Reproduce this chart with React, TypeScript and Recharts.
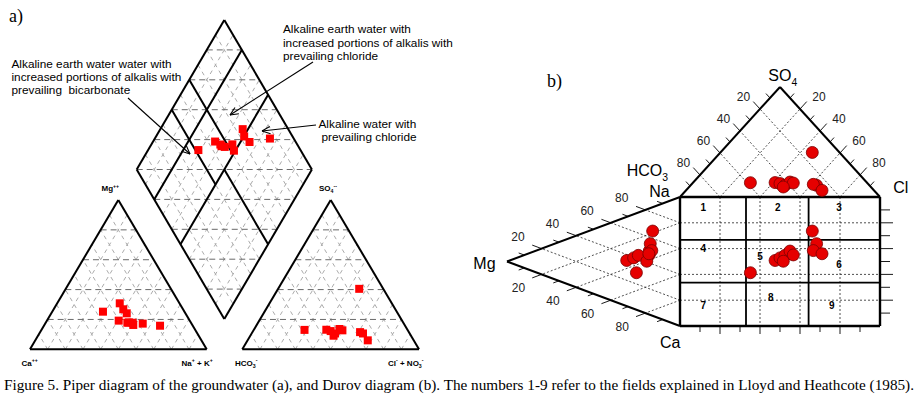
import React from "react"
import { ScatterChart, Scatter, XAxis, YAxis, ReferenceLine } from "recharts"

// ---- sample chemistry (meq %) ----
const sampleNo = [1, 2, 3, 4, 5, 6, 7, 8, 9, 10, 11]
const caPct = [46.1, 33.8, 33.8, 33.2, 33.0, 36.0, 40.2, 18.5, 27.6, 33.4, 35.0]
const mgPct = [25.2, 30.8, 26.8, 24.1, 17.8, 17.8, 19.2, 15.8, 17.2, 16.3, 18.0]
const naKPct = [28.7, 35.4, 39.4, 42.7, 49.2, 46.2, 40.6, 65.7, 55.2, 50.3, 47.0]
const hco3Pct = [58.3, 45.9, 43.9, 42.2, 38.2, 37.0, 43.8, 13.6, 26.4, 27.6, 26.0]
const so4Pct = [13.0, 13.1, 12.2, 10.6, 13.6, 12.7, 9.1, 40.5, 10.6, 11.5, 6.0]
const clPct = [28.7, 41.0, 43.9, 47.2, 48.2, 50.3, 47.1, 45.9, 63.0, 60.9, 68.0]

// axis tick labels and Durov field numbers
const pctTicks = [20, 40, 60, 80]
const fieldNo = [1, 2, 3, 4, 5, 6, 7, 8, 9]

// Furtak & Langguth field boundaries in the diamond (fractions)
const naBounds = [0.2, 0.5]
const anionBoundsLow = [0.4, 0.6] // for Na+K < 50 %
const anionBoundHigh = 0.5 // for Na+K > 50 %
// Durov field boundaries (fractions of the square)
const durovX = [0.33, 0.643]
const durovY = [0.333, 0.663]

type P = { x: number; y: number }
type Tri = { A: P; B: P; C: P }

const W = 920
const H = 404
const SANS = "'Liberation Sans', Arial, sans-serif"
const SERIF = "'Liberation Serif', 'Times New Roman', serif"

// ---- layout (px) ----
const PC: Tri = { A: { x: 30, y: 349.3 }, B: { x: 206.7, y: 349.3 }, C: { x: 118.3, y: 200 } } // Ca, Na+K, Mg
const PA: Tri = { A: { x: 242.3, y: 349.3 }, B: { x: 419, y: 349.3 }, C: { x: 330.7, y: 200 } } // HCO3, Cl, SO4
const DM = { L: { x: 136.7, y: 169.5 }, T: { x: 224.3, y: 20 }, B: { x: 224.3, y: 319 } }
const DA: Tri = { A: { x: 680, y: 197 }, B: { x: 880, y: 197 }, C: { x: 780, y: 87 } } // HCO3, Cl, SO4
const DC: Tri = { A: { x: 680, y: 326 }, B: { x: 680, y: 197 }, C: { x: 507, y: 261.5 } } // Ca, Na, Mg
const RECT = { x0: 680, x1: 880, y0: 197, y1: 326 }

const tri = (t: Tri, a: number, b: number, c: number): P => ({
  x: t.A.x * a + t.B.x * b + t.C.x * c,
  y: t.A.y * a + t.B.y * b + t.C.y * c,
})
const dia = (n: number, s: number): P => ({
  x: DM.L.x + n * (DM.B.x - DM.L.x) + s * (DM.T.x - DM.L.x),
  y: DM.L.y + n * (DM.B.y - DM.L.y) + s * (DM.T.y - DM.L.y),
})
const unit = (a: P, b: P): P => {
  const l = Math.hypot(b.x - a.x, b.y - a.y)
  return { x: (b.x - a.x) / l, y: (b.y - a.y) / l }
}
const rx = (f: number) => RECT.x0 + (RECT.x1 - RECT.x0) * f
const ry = (f: number) => RECT.y0 + (RECT.y1 - RECT.y0) * f

const STYLE: Record<string, { stroke: string; w: number; dash?: string }> = {
  thick: { stroke: "#000", w: 2 },
  thin: { stroke: "#000", w: 1.1 },
  hdash: { stroke: "#6a6a6a", w: 1, dash: "6 4" },
  ddash: { stroke: "#ababab", w: 1, dash: "4 4" },
  dot: { stroke: "#222", w: 0.8, dash: "2 2" },
  rect: { stroke: "#000", w: 2.4 },
  field: { stroke: "#000", w: 1.8 },
  tick: { stroke: "#000", w: 0.9 },
}

const segs: { a: P; b: P; kind: string }[] = []
const seg = (a: P, b: P, kind: string) => segs.push({ a, b, kind })

// ---- Piper triangles ----
const piperTriangle = (t: Tri) => {
  for (let k = 1; k <= 9; k++) {
    const f = k / 10
    seg(tri(t, f, 1 - f, 0), tri(t, f, 0, 1 - f), "ddash")
    seg(tri(t, 1 - f, f, 0), tri(t, 0, f, 1 - f), "ddash")
  }
  for (let k = 1; k <= 4; k++) {
    const f = k / 5
    seg(tri(t, 1 - f, 0, f), tri(t, 0, 1 - f, f), "hdash")
  }
  seg(t.A, t.B, "thick")
  seg(t.B, t.C, "thick")
  seg(t.C, t.A, "thick")
}
piperTriangle(PC)
piperTriangle(PA)

// ---- Piper diamond ----
for (let k = 1; k <= 9; k++) {
  const f = k / 10
  seg(dia(f, 0), dia(f, 1), "ddash")
  seg(dia(0, f), dia(1, f), "ddash")
}
for (let k = -4; k <= 4; k++) {
  const v = k / 5
  if (v >= 0) seg(dia(0, v), dia(1 - v, 1), "hdash")
  else seg(dia(-v, 0), dia(1, 1 + v), "hdash")
}
seg(dia(0, 0), dia(0, 1), "thick")
seg(dia(0, 1), dia(1, 1), "thick")
seg(dia(1, 1), dia(1, 0), "thick")
seg(dia(1, 0), dia(0, 0), "thick")
naBounds.forEach((n) => seg(dia(n, 0), dia(n, 1), "thick"))
anionBoundsLow.forEach((s) => seg(dia(0, s), dia(naBounds[1], s), "thick"))
seg(dia(naBounds[1], anionBoundHigh), dia(1, anionBoundHigh), "thick")

// annotation arrows
const arrow = (from: P, tip: P) => {
  seg(from, tip, "thin")
  const ang = Math.atan2(from.y - tip.y, from.x - tip.x)
  for (const da of [-0.42, 0.42]) {
    seg(tip, { x: tip.x + 9 * Math.cos(ang + da), y: tip.y + 9 * Math.sin(ang + da) }, "thin")
  }
}
arrow({ x: 313, y: 62 }, { x: 230, y: 115 })
arrow({ x: 128, y: 98 }, { x: 190, y: 154 })
arrow({ x: 316, y: 125 }, { x: 262, y: 131 })

// ---- Durov ----
const durovTriangle = (t: Tri) => {
  for (let k = 1; k <= 4; k++) {
    const f = k / 5
    seg(tri(t, f, 1 - f, 0), tri(t, f, 0, 1 - f), "dot")
    seg(tri(t, 1 - f, f, 0), tri(t, 0, f, 1 - f), "dot")
  }
  for (let k = 1; k <= 9; k++) {
    const f = k / 10
    const len = k % 2 === 0 ? 10 : 6
    const pa = tri(t, f, 0, 1 - f)
    const ua = unit(t.B, t.C)
    seg(pa, { x: pa.x + ua.x * len, y: pa.y + ua.y * len }, "tick")
    const pb = tri(t, 0, f, 1 - f)
    const ub = unit(t.A, t.C)
    seg(pb, { x: pb.x + ub.x * len, y: pb.y + ub.y * len }, "tick")
  }
  seg(t.A, t.C, "thick")
  seg(t.B, t.C, "thick")
}
durovTriangle(DA)
durovTriangle(DC)
for (let k = 1; k <= 4; k++) {
  const f = k / 5
  seg({ x: rx(f), y: RECT.y0 }, { x: rx(f), y: RECT.y1 }, "dot")
  seg({ x: RECT.x0, y: ry(f) }, { x: RECT.x1, y: ry(f) }, "dot")
}
for (let k = 1; k <= 9; k++) {
  const f = k / 10
  const long = k % 2 === 0
  seg({ x: RECT.x1, y: ry(f) }, { x: RECT.x1 + (long ? 13 : 10), y: ry(f) }, "tick")
  seg({ x: rx(f), y: RECT.y1 }, { x: rx(f), y: RECT.y1 + (long ? 8 : 6) }, "tick")
}
durovX.forEach((f) => seg({ x: rx(f), y: RECT.y0 }, { x: rx(f), y: RECT.y1 }, "field"))
durovY.forEach((f) => seg({ x: RECT.x0, y: ry(f) }, { x: RECT.x1, y: ry(f) }, "field"))
seg({ x: RECT.x0, y: RECT.y0 }, { x: RECT.x1, y: RECT.y0 }, "rect")
seg({ x: RECT.x1, y: RECT.y0 }, { x: RECT.x1, y: RECT.y1 }, "rect")
seg({ x: RECT.x1, y: RECT.y1 }, { x: RECT.x0, y: RECT.y1 }, "rect")
seg({ x: RECT.x0, y: RECT.y1 }, { x: RECT.x0, y: RECT.y0 }, "rect")

// ---- sample positions ----
const idx = sampleNo.map((_, i) => i)
const piperCat = idx.map((i) => tri(PC, caPct[i] / 100, naKPct[i] / 100, mgPct[i] / 100))
const piperAn = idx.map((i) => tri(PA, hco3Pct[i] / 100, clPct[i] / 100, so4Pct[i] / 100))
const piperDia = idx.map((i) => dia(naKPct[i] / 100, (so4Pct[i] + clPct[i]) / 100))
const durovAn = idx.map((i) => tri(DA, hco3Pct[i] / 100, clPct[i] / 100, so4Pct[i] / 100))
const durovCat = idx.map((i) => tri(DC, caPct[i] / 100, naKPct[i] / 100, mgPct[i] / 100))
const durovSq = idx.map((i) => ({
  x: rx((clPct[i] + so4Pct[i] / 2) / 100),
  y: ry((caPct[i] + mgPct[i] / 2) / 100),
}))

// ---- text ----
type Part = { t: string; k?: "sub" | "sup" }
type Lbl = {
  x: number
  y: number
  parts: Part[]
  size: number
  font?: string
  weight?: string
  anchor?: string
  fill?: string
  len?: number
  mid?: boolean
}
const txt = (s: string): Part[] => [{ t: s }]

const labels: Lbl[] = [
  { x: 9, y: 22, parts: txt("a)"), size: 18, font: SERIF },
  { x: 547, y: 87, parts: txt("b)"), size: 18, font: SERIF },
  // Piper annotations
  { x: 283, y: 33.3, parts: txt("Alkaline earth water with"), size: 11.8 },
  { x: 283, y: 46.6, parts: txt("increased portions of alkalis with"), size: 11.8 },
  { x: 283, y: 59.9, parts: txt("prevailing chloride"), size: 11.8 },
  { x: 11.5, y: 67.5, parts: txt("Alkaline earth water water with"), size: 11.8 },
  { x: 11.5, y: 80.5, parts: txt("increased portions of alkalis with"), size: 11.8 },
  { x: 11.5, y: 93.5, parts: txt("prevailing  bicarbonate"), size: 11.8 },
  { x: 318.5, y: 128.3, parts: txt("Alkaline water with"), size: 11.8 },
  { x: 321.5, y: 141, parts: txt("prevailing chloride"), size: 11.8 },
  // Piper corner labels
  { x: 101.5, y: 191, parts: [{ t: "Mg" }, { t: "++", k: "sup" }], size: 8, weight: "bold" },
  { x: 319, y: 191, parts: [{ t: "SO" }, { t: "4", k: "sub" }, { t: "--", k: "sup" }], size: 8, weight: "bold" },
  { x: 21.5, y: 365.5, parts: [{ t: "Ca" }, { t: "++", k: "sup" }], size: 8, weight: "bold" },
  { x: 181.5, y: 365.5, parts: [{ t: "Na" }, { t: "+", k: "sup" }, { t: " + K" }, { t: "+", k: "sup" }], size: 8, weight: "bold" },
  { x: 235, y: 365.5, parts: [{ t: "HCO" }, { t: "3", k: "sub" }, { t: "-", k: "sup" }], size: 8, weight: "bold" },
  {
    x: 388,
    y: 365.5,
    parts: [{ t: "Cl" }, { t: "-", k: "sup" }, { t: " + NO" }, { t: "3", k: "sub" }, { t: "-", k: "sup" }],
    size: 8,
    weight: "bold",
  },
  // Durov corner labels
  { x: 768.3, y: 80.7, parts: [{ t: "SO" }, { t: "4", k: "sub" }], size: 16 },
  { x: 626.7, y: 176, parts: [{ t: "HCO" }, { t: "3", k: "sub" }], size: 16 },
  { x: 649.3, y: 196.5, parts: txt("Na"), size: 16 },
  { x: 893.3, y: 192.7, parts: txt("Cl"), size: 16 },
  { x: 473.3, y: 269.3, parts: txt("Mg"), size: 16 },
  { x: 660, y: 348.3, parts: txt("Ca"), size: 16 },
  // caption
  {
    x: 4,
    y: 390,
    parts: txt(
      "Figure 5. Piper diagram of the groundwater (a), and Durov diagram (b). The numbers 1-9 refer to the fields explained in Lloyd and Heathcote (1985)."
    ),
    size: 14,
    font: SERIF,
    len: 910,
  },
]

// Durov side tick labels
const tickLbl = (p: P, dx: number, dy: number, v: number): Lbl => ({
  x: p.x + dx,
  y: p.y + dy,
  parts: txt(String(v)),
  size: 12,
  anchor: "middle",
  fill: "#222",
  mid: true,
})
pctTicks.forEach((v) => {
  const f = v / 100
  labels.push(tickLbl(tri(DA, f, 0, 1 - f), -16.5, -12, v))
  labels.push(tickLbl(tri(DA, 0, f, 1 - f), 19, -12, v))
  labels.push(tickLbl(tri(DC, 0, f, 1 - f), -23.7, -11.5, v))
  labels.push(tickLbl(tri(DC, f, 0, 1 - f), -23.2, 14, v))
})

// Durov field numbers
const fieldPos: P[] = [
  { x: 703.3, y: 206.7 },
  { x: 777.7, y: 206.7 },
  { x: 839, y: 206.7 },
  { x: 703.3, y: 248.3 },
  { x: 760, y: 256 },
  { x: 839, y: 264 },
  { x: 703.3, y: 305 },
  { x: 770.7, y: 296.7 },
  { x: 831.7, y: 305 },
]
fieldNo.forEach((n, i) =>
  labels.push({ ...fieldPos[i], parts: txt(String(n)), size: 10, weight: "bold", anchor: "middle", mid: true })
)

const TextShape = (props: any) => {
  const d: Lbl = props.payload
  let cur = 0
  return (
    <text
      x={props.cx}
      y={props.cy}
      fontSize={d.size}
      fontFamily={d.font ?? SANS}
      fontWeight={d.weight ?? "normal"}
      textAnchor={d.anchor ?? "start"}
      fill={d.fill ?? "#000"}
      dominantBaseline={d.mid ? "central" : "auto"}
      textLength={d.len}
      lengthAdjust={d.len ? "spacingAndGlyphs" : undefined}
      style={{ whiteSpace: "pre" }}
    >
      {d.parts.map((p, i) => {
        const target = p.k === "sup" ? -0.42 * d.size : p.k === "sub" ? 0.3 * d.size : 0
        const dy = target - cur
        cur = target
        return (
          <tspan key={i} dy={dy} fontSize={p.k ? d.size * 0.65 : undefined}>
            {p.t}
          </tspan>
        )
      })}
    </text>
  )
}

const Square = (props: any) => <rect x={props.cx - 4} y={props.cy - 4} width={8} height={8} fill="#ff0000" />
const Dot = (props: any) => (
  <circle cx={props.cx} cy={props.cy} r={6} fill="#e60000" stroke="#7a0000" strokeWidth={0.8} />
)

export default function App() {
  return (
    <div style={{ position: "absolute", left: 0, top: 0, width: W, height: H, background: "#fff" }}>
      <ScatterChart width={W} height={H} margin={{ top: 0, right: 0, bottom: 0, left: 0 }}>
        <XAxis type="number" dataKey="x" domain={[0, W]} hide allowDataOverflow />
        <YAxis type="number" dataKey="y" domain={[0, H]} reversed hide width={0} allowDataOverflow />
        {segs.map((s, i) => {
          const st = STYLE[s.kind]
          return (
            <ReferenceLine
              key={i}
              segment={[s.a, s.b]}
              stroke={st.stroke}
              strokeWidth={st.w}
              strokeDasharray={st.dash}
              ifOverflow="visible"
            />
          )
        })}
        <Scatter data={piperCat} shape={Square} isAnimationActive={false} />
        <Scatter data={piperAn} shape={Square} isAnimationActive={false} />
        <Scatter data={piperDia} shape={Square} isAnimationActive={false} />
        <Scatter data={durovAn} shape={Dot} isAnimationActive={false} />
        <Scatter data={durovCat} shape={Dot} isAnimationActive={false} />
        <Scatter data={durovSq} shape={Dot} isAnimationActive={false} />
        <Scatter data={labels} shape={TextShape} isAnimationActive={false} />
      </ScatterChart>
    </div>
  )
}
